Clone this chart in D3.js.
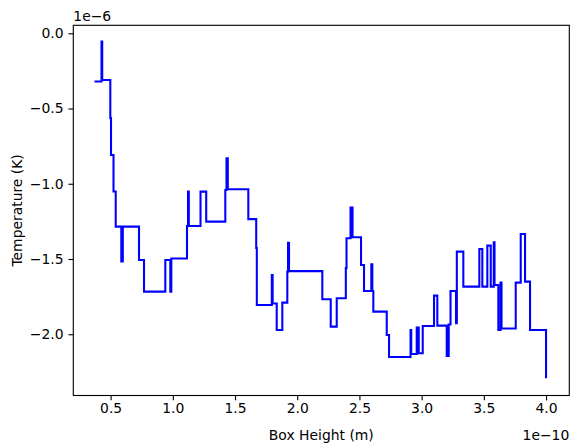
<!DOCTYPE html>
<html>
<head>
<meta charset="utf-8">
<script src="https://cdn.jsdelivr.net/npm/d3@7"></script>
<style>
  body { margin: 0; background: #fff; }
  text { font-family: "DejaVu Sans", sans-serif; }
</style>
</head>
<body>
<script>

// Box height (units of 1e-10 m) where each step starts
const boxHeight = [
    0.3706, 0.4268, 0.4325, 0.4976, 0.5032, 0.5233, 0.5410, 0.5860, 0.5981, 0.7283,
    0.7685, 0.9397, 0.9799, 0.9879, 1.1141, 1.1222, 1.1286, 1.2227, 1.2685, 1.4220,
    1.4317, 1.4421, 1.6069, 1.6704, 1.6752, 1.7958, 1.8023, 1.8352, 1.8802, 1.9204,
    1.9260, 1.9341, 2.2018, 2.2693, 2.3175, 2.3907, 2.3963, 2.4285, 2.4446, 2.5129,
    2.5370, 2.5957, 2.6037, 2.6118, 2.7195, 2.7380, 2.9108, 2.9164, 2.9606, 2.9767,
    3.0089, 3.0997, 3.1262, 3.2018, 3.2178, 3.2323, 3.2765, 3.2830, 3.3352, 3.4638,
    3.4879, 3.5281, 3.5555, 3.5796, 3.5860, 3.6166, 3.6342, 3.6423, 3.7564, 3.7966,
    3.8312, 3.8714, 4.0000
];

// Temperature (units of 1e-6 K) for each step
const temperature = [
    -0.3203, -0.0545, -0.3103, -0.5628, -0.8086, -1.0512, -1.2850, -1.5163, -1.2850, -1.5063,
    -1.7169, -1.5063, -1.7169, -1.4963, -1.2804, -1.0525, -1.2804, -1.0525, -1.2518, -1.0412,
    -0.8306, -1.0365, -1.2352, -1.4266, -1.8053, -1.6060, -1.7953, -1.9714, -1.7900, -1.5841,
    -1.3914, -1.5807, -1.7674, -1.9495, -1.7608, -1.5595, -1.3621, -1.1588, -1.3555, -1.5395,
    -1.7123, -1.5349, -1.7123, -1.8498, -2.0047, -2.1508, -1.9714, -2.1309, -1.9561, -2.1262,
    -1.9449, -1.7435, -1.9429, -2.1442, -1.9349, -1.7123, -1.9269, -1.4512, -1.6837, -1.4332,
    -1.6837, -1.4113, -1.6837, -1.3887, -1.6724, -1.9714, -1.6572, -1.9615, -1.6572, -1.3336,
    -1.6505, -1.9714, -2.2924
];

const xTicks = [0.5, 1.0, 1.5, 2.0, 2.5, 3.0, 3.5, 4.0];
const yTicks = [0.0, -0.5, -1.0, -1.5, -2.0];

const data = boxHeight.map((h, i) => ({ h: h, t: temperature[i] }));

const width = 578;
const height = 448;
const marginTop = 25.3;
const marginRight = 8.7;
const marginBottom = 52.5;
const marginLeft = 73.3;

// Scales, with matplotlib's 5% padding around the data
const x = d3.scaleLinear([0.2001, 4.187], [marginLeft, width - marginRight]);
const y = d3.scaleLinear([-2.407, 0.053], [height - marginBottom, marginTop]);

const fmt = d => d3.format(".1f")(d).replace("-", "\u2212");

// Create the SVG container.
const svg = d3.create("svg")
    .attr("width", width)
    .attr("height", height)
    .attr("viewBox", [0, 0, width, height]);

// Step line
const line = d3.line()
    .curve(d3.curveStepAfter)
    .x(d => x(d.h))
    .y(d => y(d.t));

svg.append("path")
    .attr("fill", "none")
    .attr("stroke", "#0000ff")
    .attr("stroke-width", 2.08)
    .attr("stroke-linejoin", "miter")
    .attr("d", line(data));

// x-axis
svg.append("g")
    .attr("transform", `translate(0,${height - marginBottom})`)
    .call(d3.axisBottom(x).tickValues(xTicks).tickFormat(fmt).tickSize(4.86).tickPadding(3.2).tickSizeOuter(0))
    .call(g => g.select(".domain").remove())
    .call(g => g.selectAll(".tick line").attr("stroke", "#000").attr("stroke-width", 1.11))
    .call(g => g.selectAll(".tick text").attr("font-size", 13.9).attr("fill", "#000")
        .attr("font-family", "DejaVu Sans"));

// y-axis
svg.append("g")
    .attr("transform", `translate(${marginLeft},0)`)
    .call(d3.axisLeft(y).tickValues(yTicks).tickFormat(fmt).tickSize(4.86).tickPadding(4.86).tickSizeOuter(0))
    .call(g => g.select(".domain").remove())
    .call(g => g.selectAll(".tick line").attr("stroke", "#000").attr("stroke-width", 1.11))
    .call(g => g.selectAll(".tick text").attr("font-size", 13.9).attr("fill", "#000")
        .attr("font-family", "DejaVu Sans"));

// Frame around the axes
svg.append("rect")
    .attr("x", marginLeft)
    .attr("y", marginTop)
    .attr("width", width - marginLeft - marginRight)
    .attr("height", height - marginTop - marginBottom)
    .attr("fill", "none")
    .attr("stroke", "#000")
    .attr("stroke-width", 1.11);

// Labels
svg.append("text")
    .attr("x", marginLeft + (width - marginLeft - marginRight) / 2)
    .attr("y", 440)
    .attr("text-anchor", "middle")
    .attr("font-size", 13.9)
    .text("Box Height (m)");

svg.append("text")
    .attr("transform", `translate(21.5,${marginTop + (height - marginTop - marginBottom) / 2}) rotate(-90)`)
    .attr("text-anchor", "middle")
    .attr("font-size", 13.9)
    .text("Temperature (K)");

// Offset texts
svg.append("text")
    .attr("x", width - marginRight)
    .attr("y", 440)
    .attr("text-anchor", "end")
    .attr("font-size", 13.9)
    .text("1e\u221210");

svg.append("text")
    .attr("x", marginLeft)
    .attr("y", 21.3)
    .attr("text-anchor", "start")
    .attr("font-size", 13.9)
    .text("1e\u22126");

document.body.appendChild(svg.node());
</script>
</body>
</html>
